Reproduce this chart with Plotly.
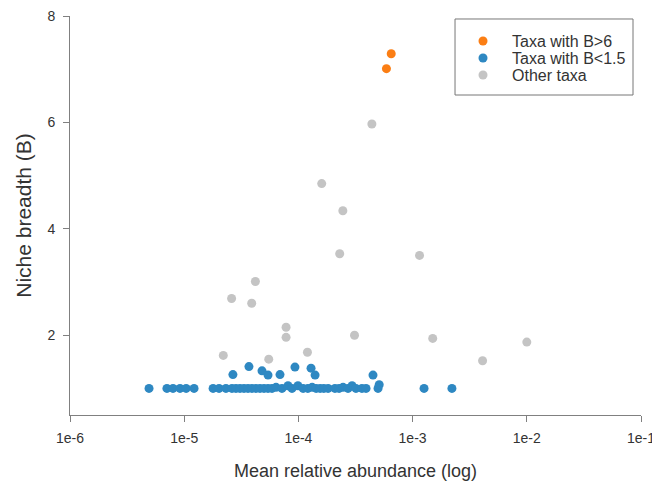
import plotly.graph_objects as go

# Taxa with B>6
high_x = [6.5e-4, 5.9e-4]
high_y = [7.29, 7.01]

# Taxa with B<1.5
low_x = [4.92e-6, 7.06e-6, 7.98e-6, 9.19e-6, 1.04e-5, 1.22e-5, 1.79e-5, 2.02e-5, 2.32e-5,
         2.62e-5, 2.84e-5, 3.08e-5, 3.34e-5, 3.62e-5, 3.92e-5, 4.25e-5, 4.61e-5, 5.0e-5,
         5.42e-5, 5.87e-5, 6.37e-5, 7.18e-5, 8.11e-5, 8.79e-5, 9.91e-5, 1.10e-4, 1.21e-4,
         1.32e-4, 1.43e-4, 1.55e-4, 1.67e-4, 1.82e-4, 2.09e-4, 2.27e-4, 2.46e-4, 2.72e-4,
         2.95e-4, 3.19e-4, 3.60e-4, 3.91e-4, 4.98e-4, 5.1e-4, 1.26e-3, 2.21e-3,
         2.67e-5, 3.69e-5, 4.80e-5, 5.42e-5, 6.90e-5, 9.33e-5, 1.29e-4, 1.40e-4, 4.50e-4]
low_y = [1.0, 1.0, 1.0, 1.0, 1.0, 1.0, 1.0, 1.0, 1.0,
         1.0, 1.0, 1.0, 1.0, 1.0, 1.0, 1.0, 1.0, 1.0,
         1.0, 1.0, 1.02, 1.0, 1.05, 1.0, 1.05, 1.0, 1.0,
         1.02, 1.0, 1.0, 1.0, 1.0, 1.0, 1.0, 1.02, 1.0,
         1.05, 1.0, 1.0, 1.0, 1.0, 1.07, 1.0, 1.0,
         1.26, 1.41, 1.33, 1.25, 1.26, 1.40, 1.38, 1.25, 1.25]

# Other taxa
other_x = [4.4e-4, 1.6e-4, 2.45e-4, 2.3e-4, 1.15e-3, 4.2e-5, 2.6e-5, 3.9e-5, 7.8e-5,
           7.8e-5, 3.1e-4, 1.5e-3, 1.0e-2, 2.2e-5, 1.2e-4, 5.5e-5, 4.1e-3]
other_y = [5.97, 4.85, 4.34, 3.53, 3.50, 3.01, 2.69, 2.60, 2.15,
           1.96, 2.0, 1.94, 1.87, 1.62, 1.68, 1.55, 1.52]

x_tickvals = [1e-6, 1e-5, 1e-4, 1e-3, 1e-2, 1e-1]
x_ticktext = ["1e-6", "1e-5", "1e-4", "1e-3", "1e-2", "1e-1"]
y_tickvals = [2, 4, 6, 8]

series_names = ["Taxa with B>6", "Taxa with B<1.5", "Other taxa"]
series_colors = ["#fb7e14", "#2e88c2", "#c4c4c4"]

fig = go.Figure()
fig.add_trace(go.Scatter(x=other_x, y=other_y, mode="markers", name=series_names[2],
                         marker=dict(color=series_colors[2], size=9)))
fig.add_trace(go.Scatter(x=low_x, y=low_y, mode="markers", name=series_names[1],
                         marker=dict(color=series_colors[1], size=9)))
fig.add_trace(go.Scatter(x=high_x, y=high_y, mode="markers", name=series_names[0],
                         marker=dict(color=series_colors[0], size=9)))

# Custom legend (tight row spacing like the reference)
shapes = [dict(type="rect", xref="paper", yref="paper",
               x0=0.6743, x1=0.9860, y0=0.8020, y1=0.9925,
               line=dict(color="#777777", width=1), fillcolor="rgba(0,0,0,0)")]
annotations = []
row_y = [0.9373, 0.8947, 0.8521]
for name, col, ry in zip(series_names, series_colors, row_y):
    shapes.append(dict(type="circle", xref="paper", yref="paper",
                       xsizemode="pixel", ysizemode="pixel",
                       xanchor=0.7233, yanchor=ry, x0=-4.5, x1=4.5, y0=-4.5, y1=4.5,
                       fillcolor=col, line=dict(width=0)))
    annotations.append(dict(text=name, xref="paper", yref="paper", x=0.7706, y=ry,
                            xanchor="left", yanchor="middle", showarrow=False,
                            font=dict(size=16, color="#333333")))

font_family = "Liberation Sans, Arial, sans-serif"
fig.update_layout(
    width=652, height=481,
    margin=dict(l=70, r=11, t=16, b=66),
    plot_bgcolor="white", paper_bgcolor="white",
    font=dict(family=font_family, color="#333333", size=14),
    showlegend=False,
    shapes=shapes,
    annotations=annotations,
    xaxis=dict(type="log", range=[-6, -1], tickvals=x_tickvals, ticktext=x_ticktext,
               showgrid=False, zeroline=False, showline=True, linecolor="#808080",
               linewidth=1, ticks="outside", ticklen=6, tickcolor="#808080",
               ticklabeloverflow="allow", ticklabelstandoff=4, automargin=False,
               tickfont=dict(size=14, color="#333333"),
               title=dict(text="Mean relative abundance (log)", font=dict(size=18, color="#333333"),
                          standoff=20)),
    yaxis=dict(range=[0.5, 8], tickvals=y_tickvals, showgrid=False, zeroline=False,
               showline=True, linecolor="#808080", linewidth=1, ticks="outside",
               ticklen=6, tickcolor="#808080", tickfont=dict(size=14, color="#333333"),
               ticklabelstandoff=5, automargin=False,
               title=dict(text="Niche breadth (B)", font=dict(size=21, color="#333333"),
                          standoff=10)),
)

fig.write_html("out.html", config={"displayModeBar": False},
               post_script="document.body.style.margin='0';")
